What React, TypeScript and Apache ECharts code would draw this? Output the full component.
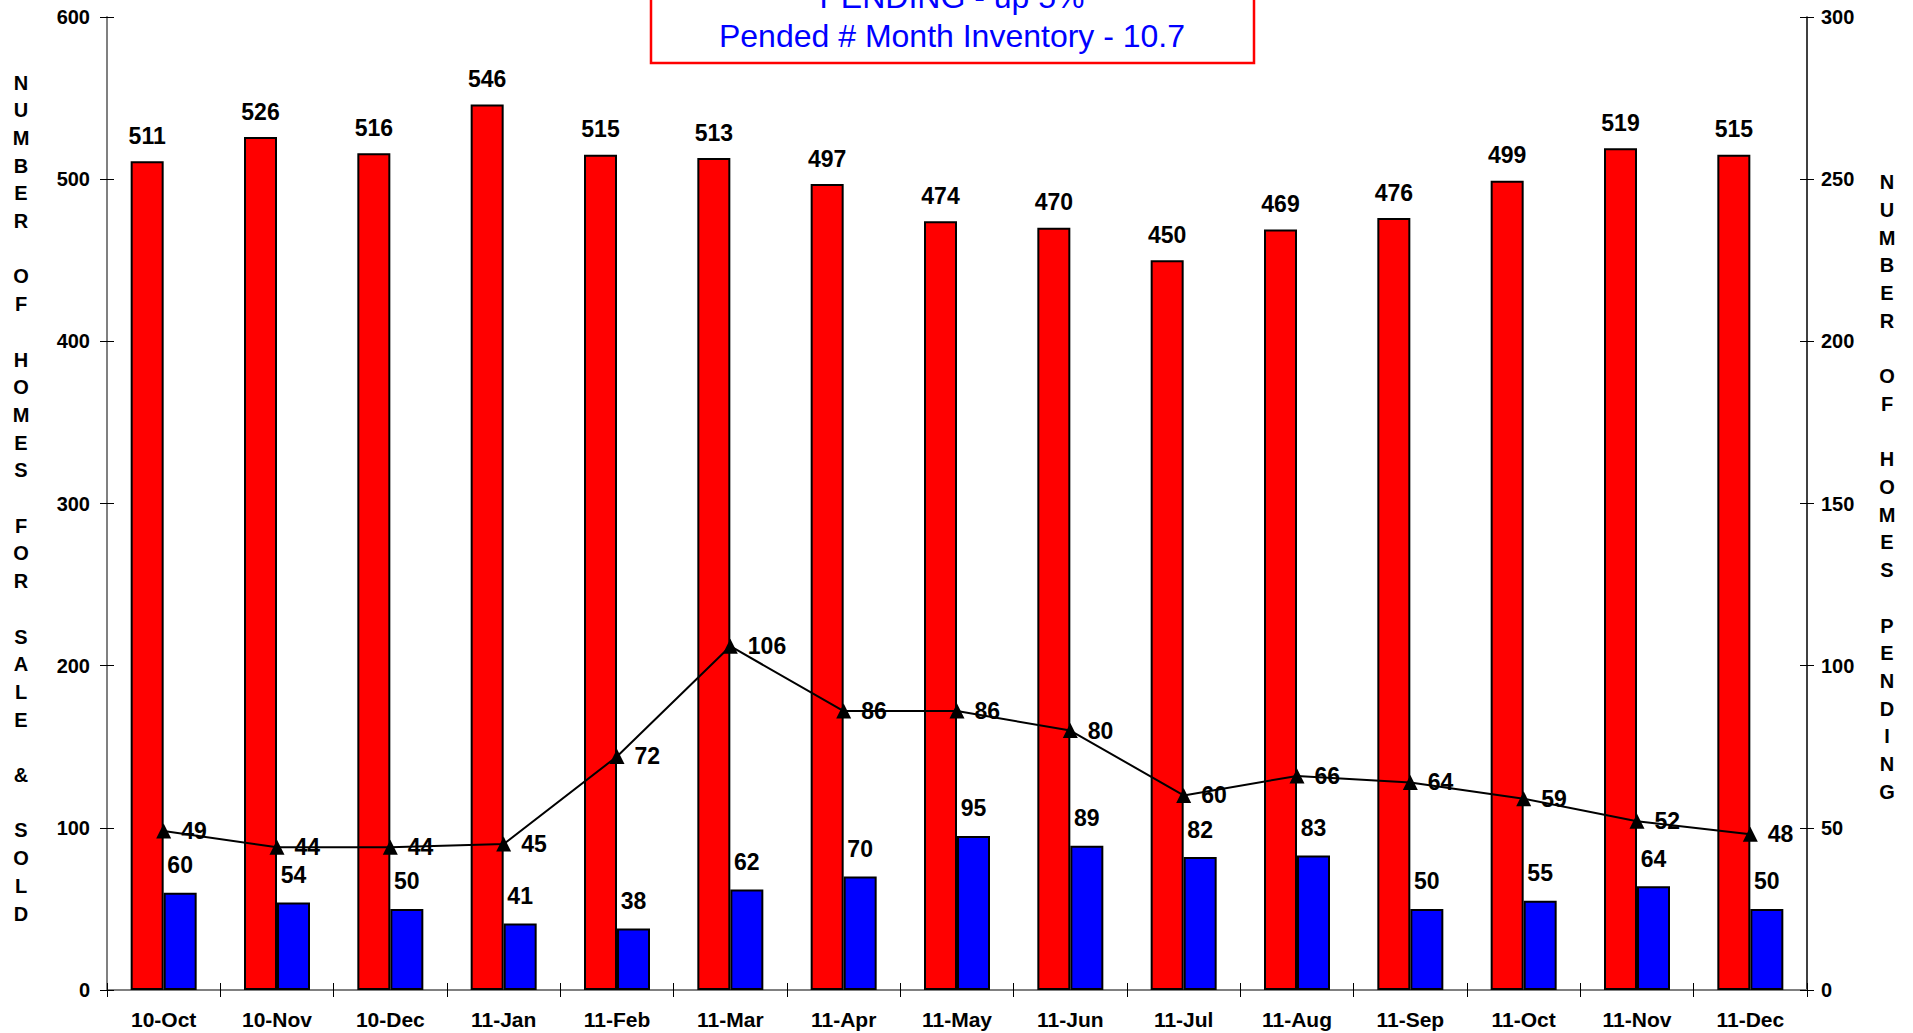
import React, { useEffect, useRef } from "react";
import * as echarts from "echarts";

const categories = ["10-Oct", "10-Nov", "10-Dec", "11-Jan", "11-Feb", "11-Mar", "11-Apr", "11-May", "11-Jun", "11-Jul", "11-Aug", "11-Sep", "11-Oct", "11-Nov", "11-Dec"];
const forSale = [511, 526, 516, 546, 515, 513, 497, 474, 470, 450, 469, 476, 499, 519, 515];
const sold = [60, 54, 50, 41, 38, 62, 70, 95, 89, 82, 83, 50, 55, 64, 50];
const pending = [49, 44, 44, 45, 72, 106, 86, 86, 80, 60, 66, 64, 59, 52, 48];
const titleLines = ["PENDING - up 5%", "Pended # Month Inventory - 10.7"];
const leftAxisName = ["NUMBER", "OF", "HOMES", "FOR", "SALE", "&", "SOLD"];
const rightAxisName = ["NUMBER", "OF", "HOMES", "PENDING"];

const FONT = "'Liberation Sans', Arial, sans-serif";

function stacked(words: string[]) {
  return words.map((w) => w.split("").join("\n")).join("\n\n");
}

export default function App() {
  const ref = useRef<HTMLDivElement>(null);
  useEffect(() => {
    const chart = echarts.init(ref.current!, null, { renderer: "svg" });
    const labelStyle = { fontFamily: FONT, fontWeight: "bold", fontSize: 23, color: "#000" };
    const innerY = (min: number, max: number, interval: number, position: string) => ({
      type: "value",
      position,
      min,
      max,
      interval,
      axisLine: { show: false },
      axisLabel: { show: false },
      splitLine: { show: false },
      axisTick: { show: true, inside: true, length: 7, lineStyle: { color: "#000", width: 1 } },
    });
    chart.setOption({
      animation: false,
      backgroundColor: "#fff",
      grid: { left: 107, right: 106, top: 17, bottom: 43 },
      xAxis: [
        {
          type: "category",
          data: categories,
          position: "bottom",
          axisLine: { lineStyle: { color: "#808080", width: 2 } },
          axisTick: { show: true, length: 7, lineStyle: { color: "#000", width: 1 } },
          axisLabel: { fontFamily: FONT, fontWeight: "bold", color: "#000", fontSize: 21, margin: 19, interval: 0 },
          splitLine: { show: false },
        },
        {
          type: "category",
          data: categories,
          position: "bottom",
          offset: 0,
          axisLine: { show: false },
          axisTick: { show: true, inside: true, length: 7, lineStyle: { color: "#000", width: 1 } },
          axisLabel: { show: false },
        },
      ],
      yAxis: [
        {
          type: "value",
          position: "left",
          min: 0,
          max: 600,
          interval: 100,
          axisLine: { show: true, lineStyle: { color: "#808080", width: 2 } },
          axisTick: { show: true, length: 7, lineStyle: { color: "#000", width: 1 } },
          axisLabel: { fontFamily: FONT, fontWeight: "bold", color: "#000", fontSize: 20, margin: 17 },
          splitLine: { show: false },
        },
        {
          type: "value",
          position: "right",
          min: 0,
          max: 300,
          interval: 50,
          axisLine: { show: true, lineStyle: { color: "#000", width: 1.5 } },
          axisTick: { show: true, length: 7, lineStyle: { color: "#000", width: 1 } },
          axisLabel: { fontFamily: FONT, fontWeight: "bold", color: "#000", fontSize: 20, margin: 14 },
          splitLine: { show: false },
        },
        { ...innerY(0, 600, 100, "left"), offset: 0 },
        { ...innerY(0, 300, 50, "right"), offset: 0 },
      ],
      series: [
        {
          type: "bar",
          name: "For Sale",
          data: forSale,
          xAxisIndex: 0,
          yAxisIndex: 0,
          barWidth: 33,
          barGap: "0%",
          itemStyle: { color: "#FF0000", borderColor: "#000", borderWidth: 2 },
          label: { show: true, position: "top", distance: 14, ...labelStyle },
        },
        {
          type: "bar",
          name: "Sold",
          data: sold,
          xAxisIndex: 0,
          yAxisIndex: 0,
          barWidth: 33,
          barGap: "0%",
          itemStyle: { color: "#0000FF", borderColor: "#000", borderWidth: 2 },
          label: { show: true, position: "top", distance: 16, ...labelStyle },
        },
        {
          type: "line",
          name: "Pending",
          data: pending,
          xAxisIndex: 0,
          yAxisIndex: 1,
          symbol: "triangle",
          symbolSize: 15,
          itemStyle: { color: "#000" },
          lineStyle: { color: "#000", width: 2 },
          label: { show: true, position: "right", distance: 10, ...labelStyle },
          z: 5,
        },
      ],
      graphic: [
        {
          type: "rect",
          shape: { x: 651, y: -80, width: 603, height: 143 },
          style: { fill: "#fff", stroke: "#FF0000", lineWidth: 2.5 },
          z: 10,
        },
        {
          type: "text",
          x: 952,
          y: -3,
          style: {
            text: titleLines[0],
            fill: "#0000FF",
            font: `32px ${FONT}`,
            textAlign: "center",
            textVerticalAlign: "middle",
          },
          z: 11,
        },
        {
          type: "text",
          x: 952,
          y: 36,
          style: {
            text: titleLines[1],
            fill: "#0000FF",
            font: `32px ${FONT}`,
            textAlign: "center",
            textVerticalAlign: "middle",
          },
          z: 11,
        },
        {
          type: "text",
          x: 21,
          y: 498,
          style: {
            text: stacked(leftAxisName),
            fill: "#000",
            font: `bold 20px ${FONT}`,
            lineHeight: 27.7,
            textAlign: "center",
            textVerticalAlign: "middle",
          },
        },
        {
          type: "text",
          x: 1887,
          y: 487,
          style: {
            text: stacked(rightAxisName),
            fill: "#000",
            font: `bold 20px ${FONT}`,
            lineHeight: 27.7,
            textAlign: "center",
            textVerticalAlign: "middle",
          },
        },
      ],
    });
    return () => chart.dispose();
  }, []);
  return (
    <div
      ref={ref}
      style={{ position: "absolute", left: 0, top: 0, width: 1913, height: 1033, background: "#fff" }}
    />
  );
}
